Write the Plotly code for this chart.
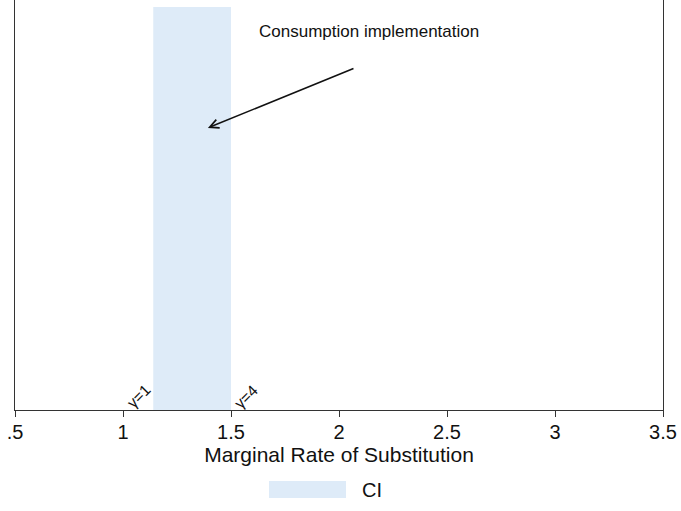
import plotly.graph_objects as go

# Confidence interval for the marginal rate of substitution
ci_low = 1.14
ci_high = 1.50

# Reference points for the risk-aversion parameter
gamma_labels = ["γ=1", "γ=4"]
gamma_x = [1.07, 1.57]

tick_vals = [0.5, 1, 1.5, 2, 2.5, 3, 3.5]
tick_text = [".5", "1", "1.5", "2", "2.5", "3", "3.5"]

band_color = "#deebf8"
font_family = "Liberation Sans, Arial, sans-serif"

fig = go.Figure()
fig.add_trace(go.Scatter(
    x=[ci_low, ci_high, ci_high, ci_low, ci_low],
    y=[0, 0, 1, 1, 0],
    fill="toself",
    fillcolor=band_color,
    line=dict(width=0),
    mode="lines",
    name="CI",
    showlegend=False,
    hoverinfo="skip",
))

for lab, gx in zip(gamma_labels, gamma_x):
    fig.add_annotation(
        x=gx, y=0.034, text=lab, showarrow=False, textangle=-45,
        font=dict(size=15.5, color="#111", family=font_family),
    )

fig.add_annotation(
    x=1.393, y=0.70, ax=2.074, ay=0.849,
    xref="x", yref="y", axref="x", ayref="y",
    showarrow=True, arrowhead=5, arrowsize=1.1, arrowwidth=1.6,
    arrowcolor="#111", text="",
)
fig.add_annotation(
    x=2.14, y=0.938, text="Consumption implementation", showarrow=False,
    font=dict(size=17, color="#111", family=font_family),
)

# Legend key
fig.add_shape(type="rect", xref="paper", yref="paper",
              x0=(269 - 15) / 648, x1=(346 - 15) / 648,
              y0=-(481 - 410) / 410, y1=-(498 - 410) / 410,
              fillcolor=band_color, line=dict(width=0))
fig.add_annotation(xref="paper", yref="paper",
                   x=(360 - 15) / 648, y=-(490 - 410) / 410,
                   xanchor="left", yanchor="middle", text="CI", showarrow=False,
                   font=dict(size=20, color="#111", family=font_family))

fig.update_layout(
    width=681, height=511,
    margin=dict(l=15, r=18, t=0, b=101),
    plot_bgcolor="white", paper_bgcolor="white",
    font=dict(family=font_family, color="#111"),
    showlegend=False,
    xaxis=dict(
        range=[0.5, 3.5], tickvals=tick_vals, ticktext=tick_text,
        ticks="outside", ticklen=6, tickcolor="#333", tickwidth=1,
        ticklabelstandoff=-2,
        showline=True, linecolor="#333", linewidth=1.2,
        showgrid=False, zeroline=False,
        tickfont=dict(size=20, color="#111"),
        title=dict(text="Marginal Rate of Substitution",
                   font=dict(size=21, color="#111"), standoff=0),
    ),
    yaxis=dict(
        range=[0, 410 / 403], showticklabels=False, ticks="",
        showline=True, mirror=True, linecolor="#333", linewidth=1.2,
        showgrid=False, zeroline=False,
    ),
)

fig.write_html("out.html")
